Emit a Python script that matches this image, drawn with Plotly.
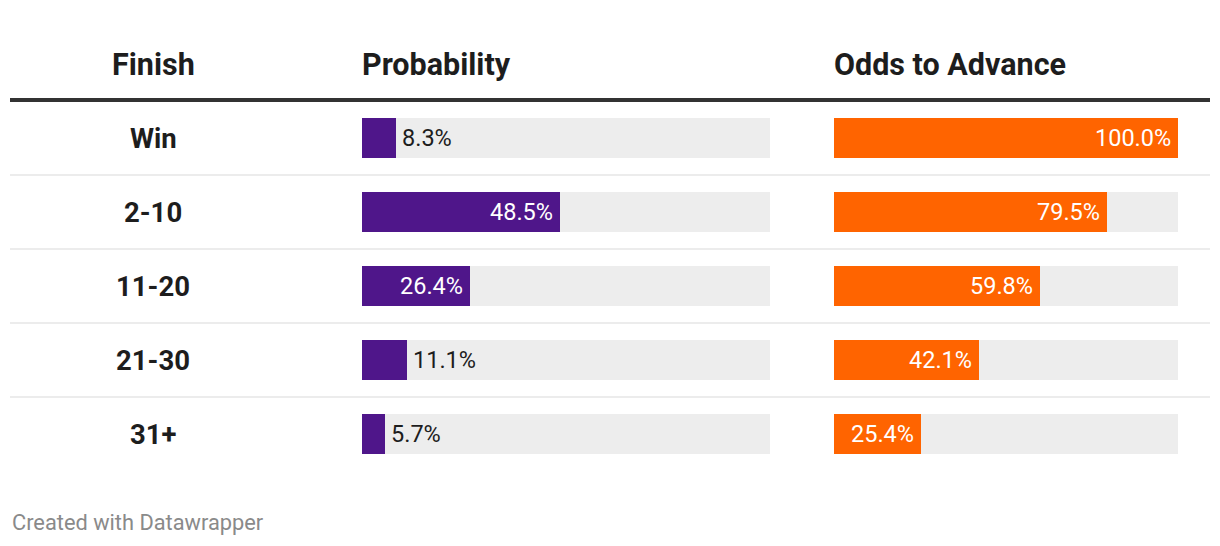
import plotly.graph_objects as go

finish = ["Win", "2-10", "11-20", "21-30", "31+"]
probability = [8.3, 48.5, 26.4, 11.1, 5.7]
odds_advance = [100.0, 79.5, 59.8, 42.1, 25.4]
headers = ["Finish", "Probability", "Odds to Advance"]
footer = "Created with Datawrapper"

OFF = 8  # page body margin
W, H = 1220 - OFF, 546 - OFF
PURPLE = "#4f168a"
ORANGE = "#ff6400"
TRACK = "#ededed"
TEXT = "#1d1d1d"


def px(sx):
    return (sx - OFF) / W


rows = list(range(len(finish)))
c0 = 138 - OFF
y_top = -c0 / 74
y_bot = (H - c0) / 74
bw = 40 / 74

fig = go.Figure()
for xa, vals, col in [("x", probability, PURPLE), ("x2", odds_advance, ORANGE)]:
    fig.add_trace(go.Bar(x=[100] * len(rows), y=rows, orientation="h", width=bw,
                         marker=dict(color=TRACK, line=dict(width=0)), xaxis=xa, yaxis="y",
                         hoverinfo="skip", showlegend=False))
    fig.add_trace(go.Bar(x=vals, y=rows, orientation="h", width=bw,
                         marker=dict(color=col, line=dict(width=0)), xaxis=xa, yaxis="y",
                         showlegend=False))

annotations = []
shapes = []
hy = (64 - 138) / 74
HF = dict(size=30.5, color=TEXT, family="Roboto")
annotations.append(dict(text=f"<b>{headers[0]}</b>", x=px(153), xref="paper", y=hy, yref="y",
                        xanchor="center", yanchor="middle", showarrow=False, font=HF))
annotations.append(dict(text=f"<b>{headers[1]}</b>", x=0, xref="x", y=hy, yref="y",
                        xanchor="left", yanchor="middle", showarrow=False, xshift=-2, font=HF))
annotations.append(dict(text=f"<b>{headers[2]}</b>", x=0, xref="x2", y=hy, yref="y",
                        xanchor="left", yanchor="middle", showarrow=False, xshift=-2, font=HF))

for i, name in enumerate(finish):
    annotations.append(dict(text=f"<b>{name}</b>", x=px(153), xref="paper", y=i, yref="y",
                            xanchor="center", yanchor="middle", showarrow=False,
                            font=dict(size=27.5, color=TEXT, family="Roboto")))


def add_labels(vals, xref, span_px):
    for i, v in enumerate(vals):
        inside = v / 100 * span_px > 80
        annotations.append(dict(text=f"{v:.1f}%", x=v, xref=xref, y=i, yref="y",
                                xanchor="right" if inside else "left", yanchor="middle",
                                xshift=-5 if inside else 4, showarrow=False,
                                font=dict(size=23.5, color="#ffffff" if inside else TEXT,
                                          family="Roboto")))


add_labels(probability, "x", 408)
add_labels(odds_advance, "x2", 344)

shapes.append(dict(type="line", xref="paper", yref="y", x0=px(10), x1=px(1210),
                   y0=(100 - 138) / 74, y1=(100 - 138) / 74,
                   line=dict(color="#333333", width=4)))
for i in rows[:-1]:
    shapes.append(dict(type="line", xref="paper", yref="y", x0=px(10), x1=px(1210),
                       y0=i + 0.5, y1=i + 0.5, line=dict(color="#ececec", width=2)))

annotations.append(dict(text=footer, x=px(10), xref="paper", y=1 - (522 - OFF) / H, yref="paper",
                        xanchor="left", yanchor="middle", showarrow=False,
                        font=dict(size=21.8, color="#8a8a8a", family="Roboto")))

fig.update_layout(
    width=W, height=H, margin=dict(l=0, r=0, t=0, b=0),
    paper_bgcolor="white", plot_bgcolor="white",
    barmode="overlay", bargap=0,
    xaxis=dict(domain=[px(362), px(770)], range=[0, 100], visible=False, fixedrange=True),
    xaxis2=dict(domain=[px(834), px(1178)], range=[0, 100], visible=False, fixedrange=True,
                anchor="y"),
    yaxis=dict(domain=[0, 1], range=[y_bot, y_top], visible=False, fixedrange=True),
    annotations=annotations, shapes=shapes,
    font=dict(family="Roboto"),
)

fig.write_html("out.html", config={"displayModeBar": False})
